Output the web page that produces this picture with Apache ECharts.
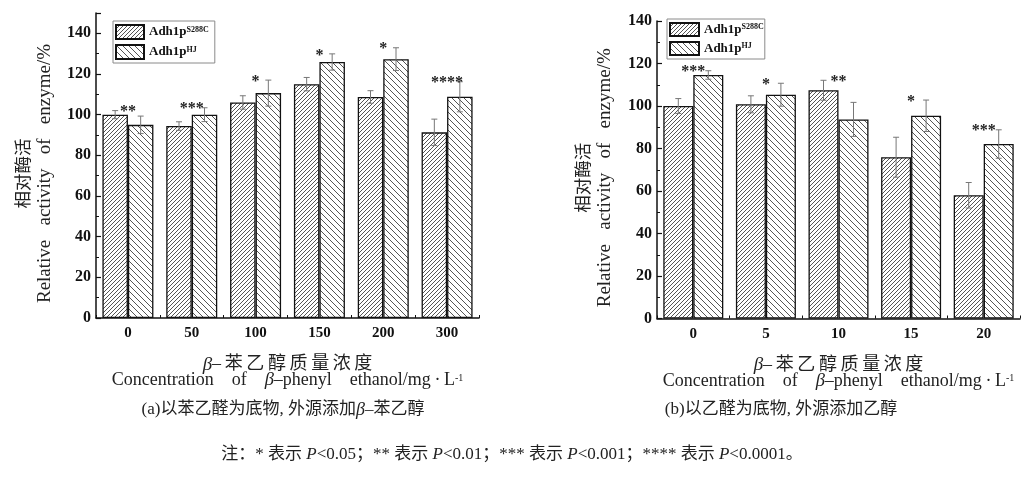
<!DOCTYPE html>
<html>
<head>
<meta charset="utf-8">
<script src="https://cdn.jsdelivr.net/npm/echarts@6/dist/echarts.min.js"></script>
<style>
  html, body { margin: 0; padding: 0; background: #fff; }
  #chart { width: 1021px; height: 486px; }
</style>
</head>
<body>
<div id="chart"></div>
<script>
// (a) benzaldehyde substrate, beta-phenyl ethanol added
const catsA = ['0', '50', '100', '150', '200', '300']
const s288cA = [100, 94.4, 106, 115, 108.7, 91.3]
const s288cErrA = [2, 2.1, 3.3, 3.3, 3.1, 6.5]
const hjA = [95, 100, 110.6, 125.9, 127.3, 108.8]
const hjErrA = [4.3, 3.4, 6.4, 4, 5.6, 7.4]
const sigA = ['**', '***', '*', '*', '*', '****']

// (b) acetaldehyde substrate, ethanol added
const catsB = ['0', '5', '10', '15', '20']
const s288cB = [100, 100.8, 107.4, 75.9, 58]
const s288cErrB = [3.5, 4, 4.7, 9.4, 6]
const hjB = [114.6, 105.3, 93.7, 95.4, 82.1]
const hjErrB = [2, 5.4, 8, 7.4, 6.7]
const sigB = ['***', '*', '**', '*', '***']

const serif = '"Liberation Serif", "Times New Roman", serif'
const cjk = '"Liberation Serif", "Noto Sans CJK SC", serif'
const ts = '\u2009'

function hatch(step, forward) {
    const c = document.createElement('canvas')
    c.width = step
    c.height = step
    const ctx = c.getContext('2d')
    ctx.fillStyle = '#fff'
    ctx.fillRect(0, 0, step, step)
    ctx.strokeStyle = '#555'
    ctx.lineWidth = 1
    ctx.beginPath()
    if (forward) {
        ctx.moveTo(-1, step + 1); ctx.lineTo(step + 1, -1)
        ctx.moveTo(-1, 1); ctx.lineTo(1, -1)
        ctx.moveTo(step - 1, step + 1); ctx.lineTo(step + 1, step - 1)
    } else {
        ctx.moveTo(-1, -1); ctx.lineTo(step + 1, step + 1)
        ctx.moveTo(step - 1, -1); ctx.lineTo(step + 1, 1)
        ctx.moveTo(-1, step - 1); ctx.lineTo(1, step + 1)
    }
    ctx.stroke()
    return c
}

const patS = { image: hatch(4, true), repeat: 'repeat' }
const patH = { image: hatch(6, false), repeat: 'repeat' }

function barSeries(name, vals, idx, bw, pat) {
    return {
        name: name,
        type: 'bar',
        xAxisIndex: idx,
        yAxisIndex: idx,
        data: vals,
        barWidth: bw,
        barGap: '0%',
        itemStyle: { color: pat, borderColor: '#111', borderWidth: 1.3 },
        emphasis: { disabled: true },
        z: 2
    }
}

function errSeries(vals, errs, idx, side, bw) {
    return {
        type: 'custom',
        xAxisIndex: idx,
        yAxisIndex: idx,
        data: vals.map((v, i) => [i, v - errs[i], v + errs[i]]),
        encode: { x: 0, y: [1, 2] },
        z: 10,
        silent: true,
        renderItem: function (params, api) {
            const i = api.value(0)
            const lo = api.coord([i, api.value(1)])
            const hi = api.coord([i, api.value(2)])
            const x = lo[0] + side * bw / 2
            const st = { stroke: '#777', lineWidth: 1 }
            return {
                type: 'group',
                children: [
                    { type: 'line', shape: { x1: x, y1: lo[1], x2: x, y2: hi[1] }, style: st },
                    { type: 'line', shape: { x1: x - 3, y1: hi[1], x2: x + 3, y2: hi[1] }, style: st },
                    { type: 'line', shape: { x1: x - 3, y1: lo[1], x2: x + 3, y2: lo[1] }, style: st }
                ]
            }
        }
    }
}

function sigSeries(sig, a, ea, b, eb, idx) {
    return {
        type: 'custom',
        xAxisIndex: idx,
        yAxisIndex: idx,
        data: sig.map((s, i) => [i, Math.max(a[i] + ea[i], b[i] + eb[i])]),
        encode: { x: 0, y: 1 },
        z: 11,
        silent: true,
        renderItem: function (params, api) {
            const p = api.coord([api.value(0), api.value(1)])
            return {
                type: 'text',
                x: p[0],
                y: p[1] + 1.5,
                style: {
                    text: sig[params.dataIndex],
                    font: 'bold 16px ' + serif,
                    fill: '#222',
                    align: 'center',
                    verticalAlign: 'middle'
                }
            }
        }
    }
}

const legendRich = {
    b: { fontFamily: serif, fontWeight: 'bold', fontSize: 13, color: '#111', lineHeight: 13 },
    s: { fontFamily: serif, fontWeight: 'bold', fontSize: 8, color: '#111', lineHeight: 8, verticalAlign: 'top' }
}

function legendAt(left, top, w, h, padR) {
    return {
        orient: 'vertical',
        left: left,
        top: top,
        data: ['S288C', 'HJ'],
        icon: 'rect',
        itemWidth: w,
        itemHeight: h,
        itemGap: 4,
        padding: [3, padR, 3, 2],
        borderColor: '#8a8a8a',
        borderWidth: 1,
        selectedMode: false,
        formatter: n => '{b|Adh1p}{s|' + n + '}',
        textStyle: { rich: legendRich }
    }
}

function yName(gap) {
    return {
        name: '{cn|相对酶活}\n{en|Relative   activity   of   enzyme/%}',
        nameLocation: 'middle',
        nameGap: gap,
        nameTextStyle: {
            padding: [0, 16, 0, 0],
            rich: {
                cn: { fontFamily: '"Noto Sans CJK SC"', fontSize: 17.5, lineHeight: 24, color: '#222' },
                en: { fontFamily: serif, fontSize: 19, lineHeight: 22, color: '#222' }
            }
        }
    }
}

const cnX = ['–', '苯', '乙', '醇', '质', '量', '浓', '度'].join(ts)
const xName = {
    name: '{bi|β}{cn|' + cnX + '}\n{en|Concentration    of    }{bi2|β}{en|–phenyl    ethanol/mg' + ts + '·' + ts + 'L}{sup|-1}',
    nameLocation: 'middle',
    nameGap: 38,
    nameTextStyle: {
        rich: {
            bi: { fontFamily: serif, fontStyle: 'italic', fontSize: 19, lineHeight: 17, color: '#222' },
            cn: { fontFamily: cjk, fontSize: 18, lineHeight: 17, color: '#222' },
            bi2: { fontFamily: serif, fontStyle: 'italic', fontSize: 18.5, lineHeight: 15, color: '#222' },
            en: { fontFamily: serif, fontSize: 18, lineHeight: 15, color: '#222' },
            sup: { fontFamily: serif, fontSize: 10, lineHeight: 8, verticalAlign: 'top', color: '#222' }
        }
    }
}

function yAxisCfg(idx, max, gap) {
    return Object.assign({
        type: 'value',
        gridIndex: idx,
        min: 0,
        max: max,
        interval: 20,
        axisLine: { show: true, lineStyle: { color: '#111', width: 1.5 } },
        axisTick: { show: true, inside: true, length: 5, lineStyle: { color: '#111', width: 1.2 } },
        minorTick: { show: true, splitNumber: 2, length: 3, lineStyle: { color: '#111', width: 1 } },
        splitLine: { show: false },
        axisLabel: {
            fontFamily: serif, fontWeight: 'bold', fontSize: 16, color: '#111', margin: 5,
            formatter: v => (v > 140 ? '' : v)
        }
    }, yName(gap))
}

function xAxisCfg(idx, cats) {
    return Object.assign({
        type: 'category',
        gridIndex: idx,
        data: cats,
        axisLine: { lineStyle: { color: '#111', width: 1.5 } },
        axisTick: { show: true, inside: true, length: 3, lineStyle: { color: '#111' } },
        axisLabel: { fontFamily: serif, fontWeight: 'bold', fontSize: 15, color: '#111', margin: 8 }
    }, xName)
}

const bwA = 25.5
const bwB = 30

const option = {
    animation: false,
    backgroundColor: '#fff',
    grid: [
        { left: 96, top: 13, width: 383, height: 305 },
        { left: 657, top: 21, width: 363, height: 297.5 }
    ],
    legend: [legendAt(113, 21, 28, 14, 6), legendAt(667, 19, 29, 13, 1)],
    xAxis: [xAxisCfg(0, catsA), xAxisCfg(1, catsB)],
    yAxis: [yAxisCfg(0, 150, 40), yAxisCfg(1, 140, 41)],
    series: [
        barSeries('S288C', s288cA, 0, bwA, patS),
        barSeries('HJ', hjA, 0, bwA, patH),
        barSeries('S288C', s288cB, 1, bwB, patS),
        barSeries('HJ', hjB, 1, bwB, patH),
        errSeries(s288cA, s288cErrA, 0, -1, bwA),
        errSeries(hjA, hjErrA, 0, 1, bwA),
        errSeries(s288cB, s288cErrB, 1, -1, bwB),
        errSeries(hjB, hjErrB, 1, 1, bwB),
        sigSeries(sigA, s288cA, s288cErrA, hjA, hjErrA, 0),
        sigSeries(sigB, s288cB, s288cErrB, hjB, hjErrB, 1)
    ],
    graphic: [
        {
            type: 'text', x: 283, y: 410,
            style: {
                text: '{t|(a)以苯乙醛为底物, 外源添加}{i|β}{t|–苯乙醇}',
                align: 'center', verticalAlign: 'middle',
                rich: {
                    t: { fontFamily: cjk, fontSize: 17, fill: '#222' },
                    i: { fontFamily: serif, fontStyle: 'italic', fontSize: 18, fill: '#222' }
                }
            }
        },
        {
            type: 'text', x: 781, y: 410,
            style: {
                text: '(b)以乙醛为底物, 外源添加乙醇',
                font: '17px ' + cjk, fill: '#222',
                align: 'center', verticalAlign: 'middle'
            }
        },
        {
            type: 'text', x: 512, y: 455,
            style: {
                text: '{t|注：* 表示 }{i|P}{t|<0.05；** 表示 }{i|P}{t|<0.01；*** 表示 }{i|P}{t|<0.001；**** 表示 }{i|P}{t|<0.0001。}',
                align: 'center', verticalAlign: 'middle',
                rich: {
                    t: { fontFamily: cjk, fontSize: 17, fill: '#222' },
                    i: { fontFamily: serif, fontStyle: 'italic', fontSize: 17, fill: '#222' }
                }
            }
        }
    ]
}

const myChart = echarts.init(document.getElementById('chart'), null, { renderer: 'canvas' })
myChart.setOption(option)
</script>
</body>
</html>
